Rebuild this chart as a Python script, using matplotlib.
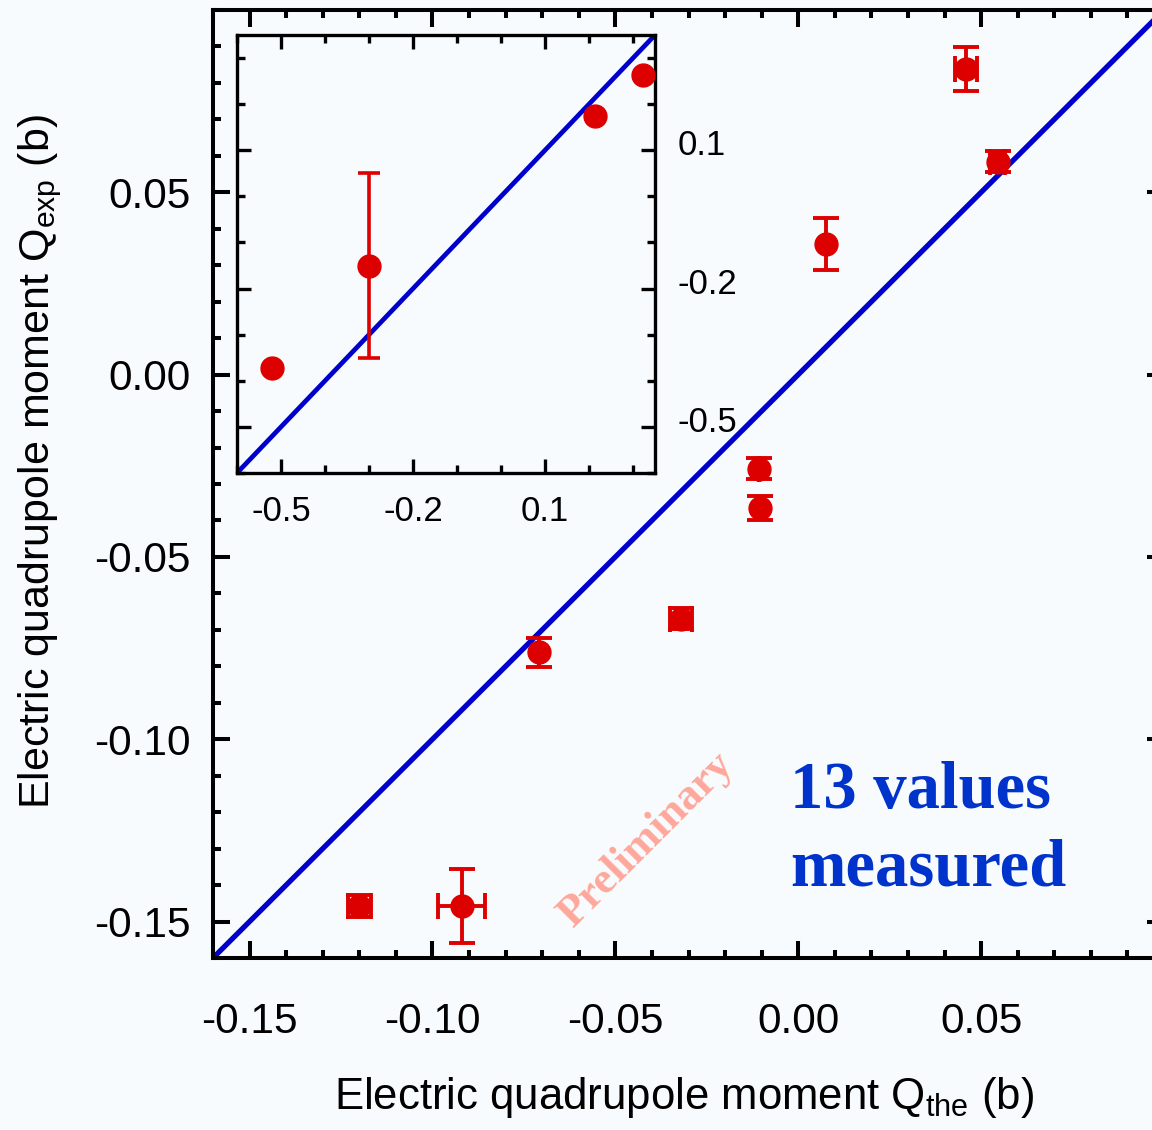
import matplotlib
matplotlib.use("Agg")
import matplotlib.pyplot as plt
import matplotlib.ticker as tkr
from matplotlib.transforms import ScaledTranslation

plt.rcParams["font.family"] = ["Liberation Sans", "DejaVu Sans"]
plt.rcParams["axes.unicode_minus"] = False
plt.rcParams["mathtext.fontset"] = "custom"
plt.rcParams["mathtext.rm"] = "Liberation Sans"
plt.rcParams["mathtext.it"] = "Liberation Sans:italic"

# main panel: theory vs experiment (b)
q_the = [-0.120, -0.092, -0.071, -0.032, -0.0106, -0.0104, 0.0077, 0.0459, 0.0545]
q_exp = [-0.1457, -0.1457, -0.0762, -0.0669, -0.0258, -0.0365, 0.0358, 0.0839, 0.0584]
q_the_err = [0.0031, 0.0064, 0.0, 0.003, 0.0, 0.0, 0.0, 0.003, 0.002]
q_exp_err = [0.0031, 0.0101, 0.0041, 0.003, 0.0029, 0.0033, 0.0072, 0.006, 0.0029]

# inset: the large values
ins_the = [-0.52, -0.30, 0.214, 0.322]
ins_exp = [-0.372, -0.15, 0.175, 0.264]
ins_exp_err = [0.0, 0.2, 0.0, 0.0]

main_ticks = [-0.15, -0.10, -0.05, 0.00, 0.05]
ins_ticks = [-0.5, -0.2, 0.1]

bg = "#f8fbfd"
red = "#dd0000"
blue = "#0000cc"

W, H = 1152, 1130
fig = plt.figure(figsize=(W / 100, H / 100), dpi=100, facecolor=bg)

# main axes (right spine sits just past the picture edge, as in the original)
ax = fig.add_axes([213 / W, 1 - 958 / H, (1164 - 213) / W, (958 - 10) / H])
ax.set_facecolor(bg)
ax.plot([-0.16, 0.10], [-0.16, 0.10], color=blue, linewidth=3.8, zorder=2)
ax.errorbar(q_the, q_exp, xerr=q_the_err, yerr=q_exp_err, fmt="o", color=red,
            markersize=16.5, elinewidth=2.8, capsize=9.5, capthick=2.8, zorder=3)
ax.set_xlim(-0.16, 0.10)
ax.set_ylim(-0.16, 0.10)
for a in (ax.xaxis, ax.yaxis):
    a.set_major_locator(tkr.FixedLocator(main_ticks))
    a.set_minor_locator(tkr.MultipleLocator(0.01))
    a.set_major_formatter(tkr.FormatStrFormatter("%.2f"))
ax.tick_params(which="both", direction="in", top=True, right=True, width=2.9, labelsize=30.5)
ax.tick_params(which="major", length=12)
ax.tick_params(which="minor", length=6)
ax.tick_params(axis="x", pad=32)
ax.tick_params(axis="y", pad=16)
for s in ax.spines.values():
    s.set_linewidth(2.9)

ax.text(0.607, 0.158, "13 values", transform=ax.transAxes, color="#0033cc",
        family="Liberation Serif", weight="bold", fontsize=48, va="baseline")
ax.text(0.607, 0.077, "measured", transform=ax.transAxes, color="#0033cc",
        family="Liberation Serif", weight="bold", fontsize=48, va="baseline")
ax.text(0.455, 0.1245, "Preliminary", transform=ax.transAxes, color="#ffa89c",
        family="Liberation Serif", weight="bold", fontsize=32, rotation=45,
        ha="center", va="center")

fig.text(684 / W, 1 - 1098 / H, r"Electric quadrupole moment Q$_{\mathrm{the}}$ (b)",
         fontsize=31.5, ha="center", va="center")
fig.text(40 / W, 1 - 462 / H, r"Electric quadrupole moment Q$_{\mathrm{exp}}$ (b)",
         fontsize=31, ha="center", va="center", rotation=90)

# inset
axi = fig.add_axes([237 / W, 1 - 473 / H, (655 - 237) / W, (473 - 35) / H])
axi.set_facecolor(bg)
axi.plot([-0.6, 0.35], [-0.6, 0.35], color=blue, linewidth=3.4, zorder=2)
axi.errorbar(ins_the, ins_exp, yerr=ins_exp_err, fmt="o", color=red,
             markersize=16.5, elinewidth=2.6, capsize=8, capthick=2.6, zorder=3)
axi.set_xlim(-0.6, 0.35)
axi.set_ylim(-0.6, 0.35)
for a in (axi.xaxis, axi.yaxis):
    a.set_major_locator(tkr.FixedLocator(ins_ticks))
    a.set_minor_locator(tkr.MultipleLocator(0.1))
    a.set_major_formatter(tkr.FormatStrFormatter("%.1f"))
axi.tick_params(which="both", direction="in", top=True, right=True, width=2.4,
                labelsize=25, labelleft=False, labelright=True, pad=16)
axi.tick_params(which="major", length=10)
axi.tick_params(which="minor", length=6)
for s in axi.spines.values():
    s.set_linewidth(2.4)

# inset right-hand labels sit a little above their ticks in the original
up = ScaledTranslation(0, 8 / 100, fig.dpi_scale_trans)
for t in axi.yaxis.get_major_ticks():
    t.label2.set_transform(t.label2.get_transform() + up)

fig.savefig("out.png", dpi=100, facecolor=bg)
